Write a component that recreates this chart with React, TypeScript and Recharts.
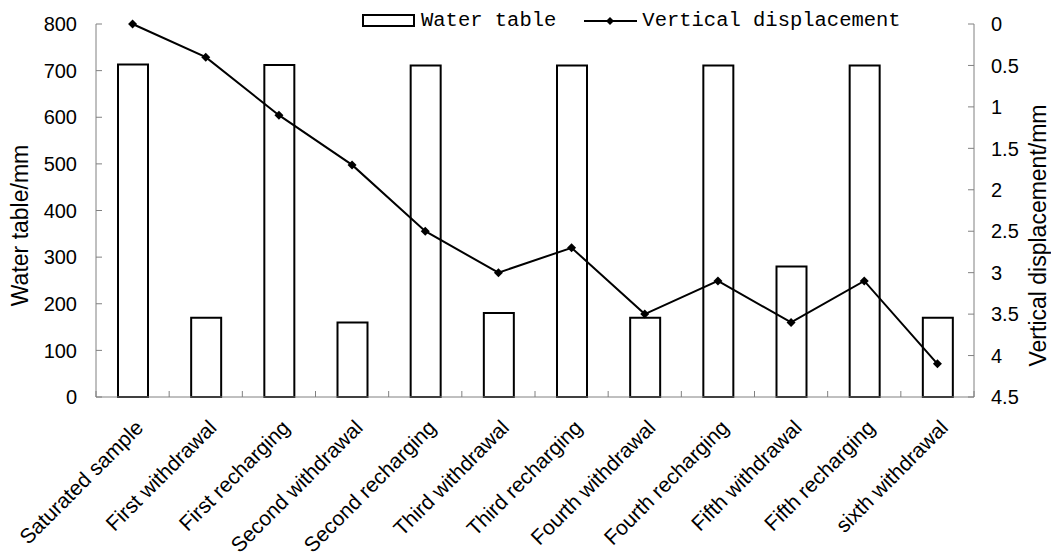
import React from "react"
import { ComposedChart, Bar, Line, XAxis, YAxis } from "recharts"

const stages = [
  "Saturated sample",
  "First withdrawal",
  "First recharging",
  "Second withdrawal",
  "Second recharging",
  "Third withdrawal",
  "Third recharging",
  "Fourth withdrawal",
  "Fourth recharging",
  "Fifth withdrawal",
  "Fifth recharging",
  "sixth withdrawal",
]
const waterTable = [713, 170, 712, 160, 711, 180, 711, 170, 711, 280, 711, 170]
const displacement = [0, 0.4, 1.1, 1.7, 2.5, 3.0, 2.7, 3.5, 3.1, 3.6, 3.1, 4.1]
const leftTicks = [0, 100, 200, 300, 400, 500, 600, 700, 800]
const rightTicks = [0, 0.5, 1, 1.5, 2, 2.5, 3, 3.5, 4, 4.5]

const data = stages.map((s, i) => ({ stage: s, water: waterTable[i], disp: displacement[i] }))

const AXIS = "#808080"
const SANS = "'Liberation Sans', Arial, sans-serif"
const MONO = "'Liberation Mono', 'DejaVu Sans Mono', monospace"
const BAND = 878 / 12

// category labels, with the small upward ticks at category boundaries
const XTick = (props: any) => {
  const { x, y, payload, index } = props
  const axisY = y - 8
  const ax = x + 12
  const ay = axisY + 32
  return (
    <g>
      <line x1={x - BAND / 2} y1={axisY} x2={x - BAND / 2} y2={axisY - 6} stroke={AXIS} />
      {index === stages.length - 1 && (
        <line x1={x + BAND / 2} y1={axisY} x2={x + BAND / 2} y2={axisY - 6} stroke={AXIS} />
      )}
      <text x={ax} y={ay} textAnchor="end" fontSize={21} fontFamily={SANS} fill="#000" transform={`rotate(-45, ${ax}, ${ay})`}>
        {payload.value}
      </text>
    </g>
  )
}

const LeftTick = (props: any) => {
  const { x, y, payload } = props
  return (
    <g>
      <line x1={x} y1={y} x2={x + 6} y2={y} stroke={AXIS} />
      <text x={x - 19} y={y} dy="0.36em" textAnchor="end" fontSize={20} fontFamily={SANS} fill="#000">
        {payload.value}
      </text>
    </g>
  )
}

const RightTick = (props: any) => {
  const { x, y, payload } = props
  return (
    <g>
      <line x1={x} y1={y} x2={x - 6} y2={y} stroke={AXIS} />
      <text x={x + 17} y={y} dy="0.36em" textAnchor="start" fontSize={20} fontFamily={SANS} fill="#000">
        {payload.value}
      </text>
    </g>
  )
}

const Diamond = (props: any) => {
  const { cx, cy } = props
  if (cx == null || cy == null) return null
  return <polygon points={`${cx},${cy - 4.5} ${cx + 4.5},${cy} ${cx},${cy + 4.5} ${cx - 4.5},${cy}`} fill="#000" />
}

const LeftTitle = (props: any) => {
  const { viewBox } = props
  const cx = viewBox.x + 20
  const cy = viewBox.y + viewBox.height / 2 + 15
  return (
    <text x={cx} y={cy} dy="0.36em" textAnchor="middle" fontSize={23} fontFamily={SANS} fill="#000" transform={`rotate(-90, ${cx}, ${cy})`}>
      Water table/mm
    </text>
  )
}

const RightTitle = (props: any) => {
  const { viewBox } = props
  const cx = viewBox.x + 64
  const cy = viewBox.y + viewBox.height / 2 + 25
  return (
    <text x={cx} y={cy} dy="0.36em" textAnchor="middle" fontSize={23} fontFamily={SANS} fill="#000" transform={`rotate(-90, ${cx}, ${cy})`}>
      Vertical displacement/mm
    </text>
  )
}

const LegendBox = () => (
  <div
    style={{
      position: "absolute",
      left: 362,
      top: 8,
      display: "flex",
      alignItems: "center",
      fontFamily: MONO,
      fontSize: 20.5,
      lineHeight: "26px",
      color: "#000",
    }}
  >
    <svg width={54} height={16}>
      <rect x={1} y={2} width={51} height={11} fill="#fff" stroke="#000" strokeWidth={2} />
    </svg>
    <span style={{ marginLeft: 5 }}>Water table</span>
    <svg width={56} height={16} style={{ marginLeft: 27 }}>
      <line x1={1} y1={8} x2={54} y2={8} stroke="#000" strokeWidth={2} />
      <polygon points="27,4 31,8 27,12 23,8" fill="#000" />
    </svg>
    <span style={{ marginLeft: 3 }}>Vertical displacement</span>
  </div>
)

export default function App() {
  return (
    <div style={{ position: "absolute", left: 0, top: 0, width: 1051, height: 559, background: "#fff" }}>
      <ComposedChart width={1051} height={559} data={data} margin={{ top: 24, right: 0, left: 0, bottom: 0 }}>
        <XAxis dataKey="stage" height={162} stroke={AXIS} tickLine={false} tick={<XTick />} interval={0} />
        <YAxis
          yAxisId="left"
          width={96}
          domain={[0, 800]}
          ticks={leftTicks}
          stroke={AXIS}
          tickLine={false}
          tickSize={0}
          tickMargin={0}
          tick={<LeftTick />}
          label={<LeftTitle />}
        />
        <YAxis
          yAxisId="right"
          orientation="right"
          width={77}
          domain={[0, 4.5]}
          ticks={rightTicks}
          reversed
          stroke={AXIS}
          tickLine={false}
          tickSize={0}
          tickMargin={0}
          tick={<RightTick />}
          label={<RightTitle />}
        />
        <Bar
          yAxisId="left"
          dataKey="water"
          name="Water table"
          barSize={30}
          fill="#fff"
          stroke="#000"
          strokeWidth={2}
          isAnimationActive={false}
        />
        <Line
          yAxisId="right"
          dataKey="disp"
          name="Vertical displacement"
          type="linear"
          stroke="#000"
          strokeWidth={2}
          dot={<Diamond />}
          activeDot={false}
          isAnimationActive={false}
        />
      </ComposedChart>
      <LegendBox />
    </div>
  )
}
